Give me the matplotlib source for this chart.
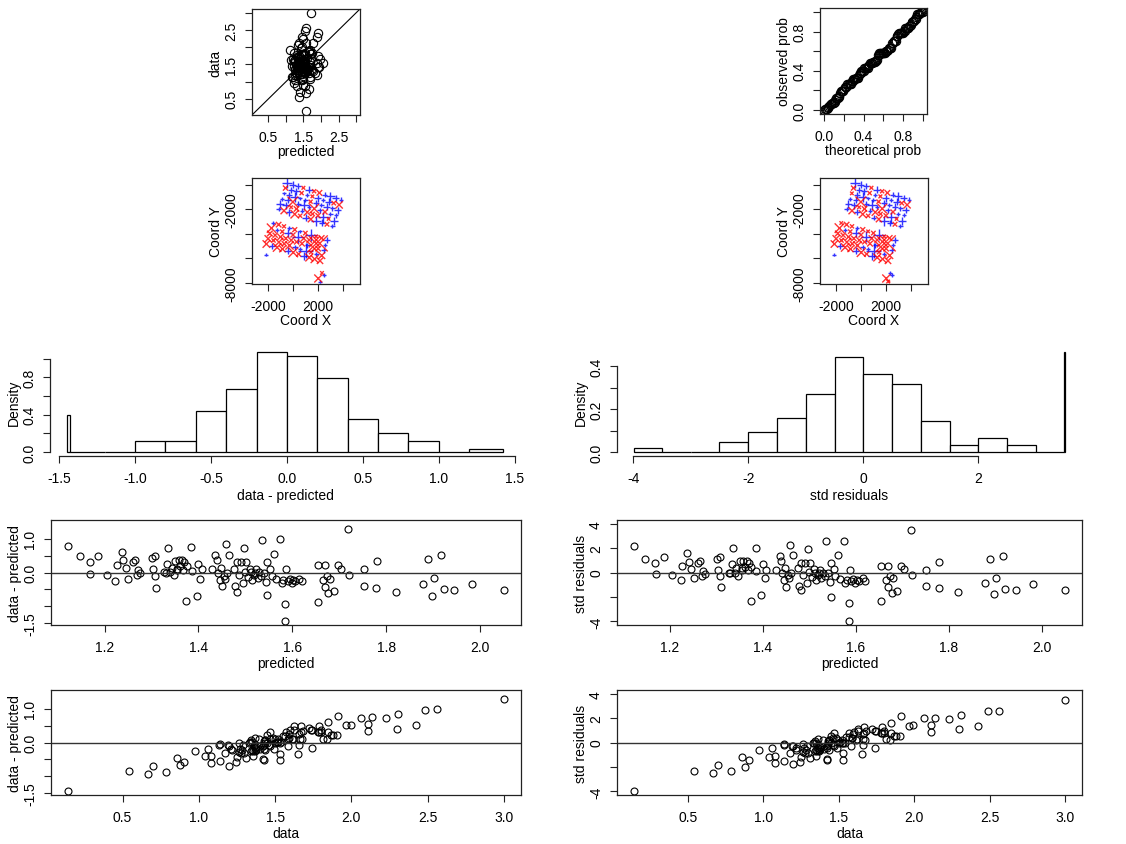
import math
import numpy as np
import matplotlib
matplotlib.use('Agg')
import matplotlib.pyplot as plt

plt.rcParams['font.family'] = ['Liberation Sans', 'DejaVu Sans']
plt.rcParams['font.size'] = 10

# cross-validation results
predicted = [1.123, 1.147, 1.168, 1.169, 1.187, 1.205, 1.223, 1.226, 1.237, 1.240,
             1.246, 1.251, 1.260, 1.265, 1.269, 1.271, 1.275, 1.301, 1.303, 1.308,
             1.308, 1.310, 1.326, 1.334, 1.336, 1.340, 1.343, 1.347, 1.350, 1.354,
             1.358, 1.361, 1.365, 1.367, 1.370, 1.374, 1.375, 1.385, 1.386, 1.397,
             1.400, 1.404, 1.407, 1.429, 1.436, 1.439, 1.441, 1.445, 1.448, 1.450,
             1.454, 1.457, 1.459, 1.460, 1.465, 1.475, 1.478, 1.482, 1.483, 1.487,
             1.490, 1.494, 1.498, 1.502, 1.505, 1.509, 1.512, 1.515, 1.519, 1.523,
             1.526, 1.530, 1.533, 1.536, 1.540, 1.544, 1.546, 1.546, 1.553, 1.556,
             1.561, 1.565, 1.574, 1.577, 1.581, 1.585, 1.585, 1.587, 1.590, 1.594,
             1.599, 1.602, 1.606, 1.615, 1.620, 1.654, 1.654, 1.665, 1.670, 1.670,
             1.674, 1.677, 1.681, 1.689, 1.697, 1.703, 1.718, 1.720, 1.752, 1.752,
             1.779, 1.780, 1.821, 1.879, 1.890, 1.897, 1.901, 1.916, 1.922, 1.945,
             1.982, 2.050, 1.330, 1.355, 1.520, 1.500]

errors = [0.79, 0.48, 0.30, -0.03, 0.48, -0.07, -0.25, 0.22, 0.61, 0.36,
          0.12, -0.19, 0.31, 0.36, -0.08, 0.07, -0.01, 0.42, 0.09, 0.48,
          -0.11, -0.45, 0.01, 0.26, 0.73, 0.01, 0.14, -0.06, 0.33, 0.11,
          0.38, 0.19, 0.38, 0.07, 0.30, -0.83, 0.19, 0.75, 0.04, -0.70,
          0.26, -0.19, 0.09, 0.09, 0.53, 0.36, -0.01, -0.23, 0.14, -0.41,
          -0.09, -0.19, 0.85, -0.01, 0.53, 0.11, -0.40, 0.30, -0.58, -0.06,
          0.30, -0.32, 0.73, 0.30, -0.13, 0.11, 0.01, -0.23, -0.06, 0.09,
          -0.16, 0.01, -0.11, 0.95, -0.01, -0.28, 0.30, -0.67, 0.11, -0.09,
          0.55, -0.19, 0.99, -0.30, -0.23, -0.92, -1.44, 0.09, -0.25, -0.19,
          -0.30, -0.23, -0.25, -0.19, -0.25, 0.21, -0.87, -0.23, 0.21, -0.42,
          -0.09, -0.60, -0.19, -0.55, 0.21, 0.11, 1.28, -0.06, 0.09, -0.40,
          -0.47, 0.33, -0.58, -0.35, 0.41, -0.70, -0.16, 0.51, -0.50, -0.52,
          -0.33, -0.52, 0.00, 0.08, -0.02, 0.01]

std_errors = [2.13, 1.09, 0.75, -0.13, 1.28, -0.19, -0.64, 0.53, 1.60, 0.88,
              0.29, -0.48, 0.80, 0.96, -0.27, 0.16, -0.11, 1.07, 0.21, 1.28,
              -0.32, -1.17, -0.02, 0.69, 2.03, 0.00, 0.35, -0.27, 0.96, 0.35,
              0.96, 0.48, 0.96, 0.21, 0.80, -2.32, 0.48, 2.03, 0.16, -1.87,
              0.69, -0.46, 0.21, 0.21, 1.33, 0.96, -0.05, -0.64, 0.35, -1.17,
              -0.19, -0.45, 2.29, -0.05, 1.44, 0.35, -1.12, 0.80, -1.44, -0.19,
              0.80, -0.85, 1.95, 0.80, -0.37, 0.27, -0.03, -0.64, -0.19, 0.21,
              -0.47, -0.02, -0.32, 2.56, -0.05, -0.80, 0.80, -1.97, 0.27, -0.27,
              1.47, -0.53, 2.61, -0.85, -0.64, -2.49, -3.98, 0.21, -0.72, -0.53,
              -0.85, -0.64, -0.72, -0.46, -0.72, 0.53, -2.32, -0.64, 0.53, -1.17,
              -0.27, -1.65, -0.47, -1.52, 0.53, 0.27, 3.49, -0.19, 0.21, -1.07,
              -1.25, 0.88, -1.57, -0.85, 1.07, -1.73, -0.45, 1.33, -1.39, -1.44,
              -0.93, -1.44, -0.05, 0.20, 0.00, 0.02]

# sample locations
coord_x = [-480, -50, 380, 810, 1240, 1670, 2090, 2520, 2950, 3380, 3810,
           -620, -190, 240, 670, 1100, 1530, 1960, 2390, 2820, 3240, 3670,
           -750, -330, 100, 530, 960, 1390, 1820, 2250, 2680, 3110, 3540,
           -890, -460, -30, 400, 830, 1250, 1680, 2110, 2540, 2970, 3400,
           -1030, -600, -170, 260, 690, 1120, 1550, 1980, 2400, 2830, 3260,
           -1170, -740, -310, 120, 550, 980, 1410, 1840, 2270, 2700, 3130,
           -1600, -1170, -740, -310, 120, 550, 970, 1400, 1830, 2260, 2690,
           -1740, -1310, -880, -450, -20, 410, 840, 1270, 1700, 2120, 2550,
           -1870, -1450, -1020, -590, -160, 270, 700, 1130, 1560, 1990, 2420,
           -2010, -1580, -1150, -720, -300, 130, 560, 990, 1420, 1850, 2280,
           -2150, -1720, -1290, -860, -430, 0, 430, 860, 1280, 1710, 2140,
           2000, 2150, 2450, 2300, -2200]
coord_y = [150, 10, -120, -260, -400, -540, -670, -810, -950, -1080, -1220,
           -280, -420, -550, -690, -830, -960, -1100, -1240, -1380, -1510, -1650,
           -710, -850, -980, -1120, -1260, -1390, -1530, -1670, -1800, -1940, -2080,
           -1140, -1270, -1410, -1550, -1690, -1820, -1960, -2100, -2230, -2370, -2510,
           -1570, -1700, -1840, -1980, -2110, -2250, -2390, -2530, -2660, -2800, -2940,
           -2000, -2130, -2270, -2410, -2540, -2680, -2820, -2950, -3090, -3230, -3370,
           -3130, -3260, -3400, -3540, -3670, -3810, -3950, -4080, -4220, -4360, -4500,
           -3550, -3690, -3830, -3970, -4100, -4240, -4380, -4510, -4650, -4790, -4920,
           -3980, -4120, -4260, -4390, -4530, -4670, -4810, -4940, -5080, -5220, -5350,
           -4410, -4550, -4690, -4820, -4960, -5100, -5230, -5370, -5510, -5650, -5780,
           -4840, -4980, -5120, -5250, -5390, -5530, -5660, -5800, -5940, -6070, -6210,
           -7650, -7900, -7400, -7200, -5700]

err_breaks = [-1.445, -1.425, -1.2, -1.0, -0.8, -0.6, -0.4, -0.2, 0.0, 0.2,
              0.4, 0.6, 0.8, 1.0, 1.2, 1.42]
std_breaks = [-3.98, -3.5, -3.0, -2.5, -2.0, -1.5, -1.0, -0.5, 0.0, 0.5,
              1.0, 1.5, 2.0, 2.5, 3.0, 3.483, 3.5]

predicted = np.array(predicted)
errors = np.array(errors)
std_errors = np.array(std_errors)
data = predicted + errors

W, H = 1126, 845
fig = plt.figure(figsize=(W / 100, H / 100), dpi=100)


def px_axes(left, top, right, bottom):
    return fig.add_axes([left / W, 1 - bottom / H, (right - left) / W, (bottom - top) / H])


def rlim(lo, hi):
    d = (hi - lo) * 0.04
    return lo - d, hi + d


def r_style(ax, xt, xl, yt, yl, box=True):
    ax.set_xticks(xt)
    ax.set_xticklabels(xl)
    ax.set_yticks(yt)
    ax.set_yticklabels(yl)
    ax.tick_params(length=5, width=0.8, labelsize=10, color='#222222')
    ax.tick_params(axis='x', pad=6)
    ax.tick_params(axis='y', pad=5)
    for lab in ax.get_yticklabels():
        lab.set_rotation(90)
        lab.set_va('center')
    for sp in ax.spines.values():
        sp.set_linewidth(0.9)
        sp.set_color('#222222')
    if not box:
        ax.spines['top'].set_visible(False)
        ax.spines['right'].set_visible(False)


circ = dict(marker='o', mfc='none', mec='black', mew=0.8, ls='none')

# data vs predicted
ax = px_axes(252, 10, 360, 116)
lim = rlim(min(data.min(), predicted.min()), max(data.max(), predicted.max()))
ax.plot(predicted, data, ms=6, **circ)
ax.plot(lim, lim, color='black', lw=0.8)
ax.set_xlim(lim)
ax.set_ylim(lim)
t = [0.5, 1.0, 1.5, 2.0, 2.5, 3.0]
tl = ['0.5', '', '1.5', '', '2.5', '']
r_style(ax, t, tl, t, tl)
ax.set_xlabel('predicted', labelpad=0)
ax.set_ylabel('data', labelpad=1)

# pp plot
n = len(std_errors)
theo = (np.arange(1, n + 1) - 0.5) / n
obs = np.array([0.5 * (1 + math.erf(v / math.sqrt(2))) for v in np.sort(std_errors)])
ax = px_axes(820, 9, 927, 115)
ax.plot(theo, obs, ms=6, **circ)
ax.set_xlim(-0.04, 1.04)
ax.set_ylim(-0.04, 1.04)
t = [0, 0.2, 0.4, 0.6, 0.8, 1.0]
tl = ['0.0', '', '0.4', '', '0.8', '']
r_style(ax, t, tl, t, tl)
ax.set_xlabel('theoretical prob', labelpad=0)
ax.set_ylabel('observed prob', labelpad=1)

# maps of the errors
for left, vals in [(252, errors), (820, std_errors)]:
    ax = px_axes(left, 179, left + 108, 285)
    vals = np.asarray(vals)
    size = (2.5 + 9.0 * np.abs(vals) / np.abs(vals).max()) ** 2
    pos = vals >= 0
    cx = np.array(coord_x)
    cy = np.array(coord_y)
    ax.scatter(cx[pos], cy[pos], s=size[pos], marker='+', c='blue', linewidths=1.0, alpha=0.8)
    ax.scatter(cx[~pos], cy[~pos], s=size[~pos], marker='x', c='red', linewidths=1.0, alpha=0.8)
    ax.set_xlim(-3300, 5340)
    ax.set_ylim(-8100, 540)
    r_style(ax, [-2000, 0, 2000, 4000], ['-2000', '', '2000', ''],
            [0, -2000, -4000, -6000, -8000], ['', '-2000', '', '', '-8000'])
    ax.set_xlabel('Coord X', labelpad=0)
    ax.set_ylabel('Coord Y', labelpad=1)

# histograms
ax = px_axes(50, 349, 520, 457)
h, _, _ = ax.hist(errors, bins=err_breaks, density=True, facecolor='white',
                  edgecolor='black', linewidth=0.9)
ax.set_xlim(rlim(err_breaks[0], err_breaks[-1]))
ax.set_ylim(rlim(0, h.max()))
r_style(ax, [-1.5, -1.0, -0.5, 0.0, 0.5, 1.0, 1.5],
        ['-1.5', '-1.0', '-0.5', '0.0', '0.5', '1.0', '1.5'],
        [0, 0.2, 0.4, 0.6, 0.8, 1.0], ['0.0', '', '0.4', '', '0.8', ''], box=False)
ax.spines['bottom'].set_bounds(-1.5, 1.5)
ax.spines['left'].set_bounds(0, 1.0)
ax.set_xlabel('data - predicted', labelpad=2)
ax.set_ylabel('Density', labelpad=1)

ax = px_axes(617, 349, 1082, 457)
h, _, _ = ax.hist(std_errors, bins=std_breaks, density=True, facecolor='white',
                  edgecolor='black', linewidth=0.9)
ax.set_xlim(rlim(std_breaks[0], std_breaks[-1]))
ax.set_ylim(rlim(0, h.max()))
r_style(ax, [-4, -2, 0, 2], ['-4', '-2', '0', '2'],
        [0, 0.1, 0.2, 0.3, 0.4], ['0.0', '', '0.2', '', '0.4'], box=False)
ax.spines['bottom'].set_bounds(-4, 2)
ax.spines['left'].set_bounds(0, 0.4)
ax.set_xlabel('std residuals', labelpad=2)
ax.set_ylabel('Density', labelpad=1)

# errors against predicted and data
rows = [(521, 626, predicted, 'predicted'), (691, 796, data, 'data')]
cols = [(51, 521, errors, 'data - predicted'), (617, 1082, std_errors, 'std residuals')]
for top, bottom, xv, xname in rows:
    for left, right, yv, yname in cols:
        ax = px_axes(left, top, right, bottom)
        ax.plot(xv, yv, ms=5, **circ)
        ax.axhline(0, color='#333333', lw=1.0)
        ax.set_xlim(rlim(xv.min(), xv.max()))
        m = np.abs(yv).max()
        ax.set_ylim(rlim(-m, m))
        if xname == 'predicted':
            xt = [1.2, 1.4, 1.6, 1.8, 2.0]
            xl = ['1.2', '1.4', '1.6', '1.8', '2.0']
        else:
            xt = [0.5, 1.0, 1.5, 2.0, 2.5, 3.0]
            xl = ['0.5', '1.0', '1.5', '2.0', '2.5', '3.0']
        if yname == 'std residuals':
            yt = [-4, -2, 0, 2, 4]
            yl = ['-4', '', '0', '2', '4']
        else:
            yt = [-1.5, -1.0, -0.5, 0.0, 0.5, 1.0]
            yl = ['-1.5', '', '', '0.0', '', '1.0']
        r_style(ax, xt, xl, yt, yl)
        ax.set_xlabel(xname, labelpad=1)
        ax.set_ylabel(yname, labelpad=1)

fig.savefig('out.png', dpi=100)
